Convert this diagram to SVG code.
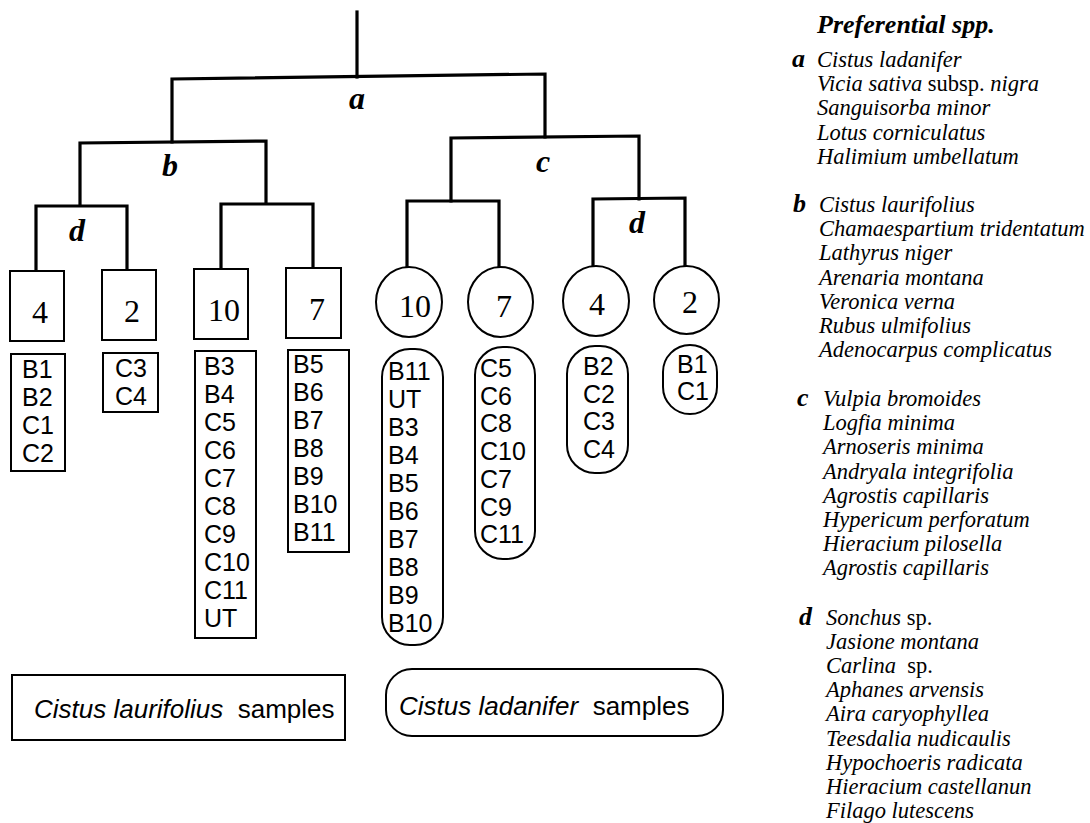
<svg xmlns="http://www.w3.org/2000/svg" width="1090" height="823" viewBox="0 0 1090 823">
<style>
.tree{stroke:#000;stroke-width:3.2;fill:none;stroke-linecap:square}
.box{fill:#fff;stroke:#000;stroke-width:2}
.num{font-family:"Liberation Serif",serif;font-size:32px;text-anchor:middle}
.lst{font-family:"Liberation Sans",Arial,sans-serif;font-size:25px}
.lbl{font-family:"Liberation Serif",serif;font-weight:bold;font-style:italic;font-size:32px;text-anchor:middle}
.leg{font-family:"Liberation Serif",serif;font-style:italic;font-size:22.5px}
.legl{font-family:"Liberation Serif",serif;font-weight:bold;font-style:italic;font-size:26px}
.up{font-style:normal}
.cap{font-family:"Liberation Sans",Arial,sans-serif;font-size:26px}
</style>
<rect width="1090" height="823" fill="#fff"/>
<g id="connectors" class="tree">
<polyline points="357,12 357,77"/>
<polyline points="172,142 172,79 545,74 545,137"/>
<polyline points="80,205 80,143 266,141 266,203"/>
<polyline points="36,270 36,206 127,206 127,270"/>
<polyline points="221,268 221,204 313,204 313,268"/>
<polyline points="451,201 451,138 639,136 639,199"/>
<polyline points="407,268 407,201 499,201 499,268"/>
<polyline points="593,266 593,199 685,198 685,266"/>
</g>
<g id="labels">
<text class="lbl" x="357" y="109">a</text>
<text class="lbl" x="170" y="176">b</text>
<text class="lbl" x="77" y="241">d</text>
<text class="lbl" x="543" y="172">c</text>
<text class="lbl" x="637" y="233">d</text>
</g>
<g id="node-l4">
<rect class="box" x="10" y="271" width="54" height="70"/>
<text class="num" x="40" y="323">4</text>
<rect class="box" x="11" y="354" width="54" height="117"/>
<text class="lst" x="22" y="378"><tspan x="22">B1</tspan><tspan x="22" dy="28">B2</tspan><tspan x="22" dy="28">C1</tspan><tspan x="22" dy="28">C2</tspan></text>
</g>
<g id="node-l2">
<rect class="box" x="102" y="270" width="54" height="70"/>
<text class="num" x="132" y="322">2</text>
<rect class="box" x="103" y="353" width="55" height="59"/>
<text class="lst" x="115" y="377"><tspan x="115">C3</tspan><tspan x="115" dy="28">C4</tspan></text>
</g>
<g id="node-l10">
<rect class="box" x="194" y="269" width="54" height="70"/>
<text class="num" x="224" y="321">10</text>
<rect class="box" x="195" y="351" width="61" height="287"/>
<text class="lst" x="204" y="375"><tspan x="204">B3</tspan><tspan x="204" dy="28">B4</tspan><tspan x="204" dy="28">C5</tspan><tspan x="204" dy="28">C6</tspan><tspan x="204" dy="28">C7</tspan><tspan x="204" dy="28">C8</tspan><tspan x="204" dy="28">C9</tspan><tspan x="204" dy="28">C10</tspan><tspan x="204" dy="28">C11</tspan><tspan x="204" dy="28">UT</tspan></text>
</g>
<g id="node-l7">
<rect class="box" x="286" y="268" width="55" height="70"/>
<text class="num" x="317" y="320">7</text>
<rect class="box" x="288" y="350" width="61" height="202"/>
<text class="lst" x="293" y="373"><tspan x="293">B5</tspan><tspan x="293" dy="28">B6</tspan><tspan x="293" dy="28">B7</tspan><tspan x="293" dy="28">B8</tspan><tspan x="293" dy="28">B9</tspan><tspan x="293" dy="28">B10</tspan><tspan x="293" dy="28">B11</tspan></text>
</g>
<g id="node-r10">
<ellipse class="box" cx="409" cy="302" rx="33" ry="35"/>
<text class="num" x="415" y="317">10</text>
<rect class="box" x="382" y="349" width="61" height="296" rx="28" ry="28"/>
<text class="lst" x="388" y="380"><tspan x="388">B11</tspan><tspan x="388" dy="28">UT</tspan><tspan x="388" dy="28">B3</tspan><tspan x="388" dy="28">B4</tspan><tspan x="388" dy="28">B5</tspan><tspan x="388" dy="28">B6</tspan><tspan x="388" dy="28">B7</tspan><tspan x="388" dy="28">B8</tspan><tspan x="388" dy="28">B9</tspan><tspan x="388" dy="28">B10</tspan></text>
</g>
<g id="node-r7">
<ellipse class="box" cx="500.5" cy="302" rx="32.5" ry="35"/>
<text class="num" x="504" y="317">7</text>
<rect class="box" x="475" y="347" width="60" height="212" rx="28" ry="28"/>
<text class="lst" x="480" y="377"><tspan x="480">C5</tspan><tspan x="480" dy="27.7">C6</tspan><tspan x="480" dy="27.7">C8</tspan><tspan x="480" dy="27.7">C10</tspan><tspan x="480" dy="27.7">C7</tspan><tspan x="480" dy="27.7">C9</tspan><tspan x="480" dy="27.7">C11</tspan></text>
</g>
<g id="node-r4">
<ellipse class="box" cx="596" cy="301" rx="33" ry="35"/>
<text class="num" x="597" y="315">4</text>
<rect class="box" x="567" y="346" width="61" height="127" rx="28" ry="28"/>
<text class="lst" x="583" y="375"><tspan x="583">B2</tspan><tspan x="583" dy="27.7">C2</tspan><tspan x="583" dy="27.7">C3</tspan><tspan x="583" dy="27.7">C4</tspan></text>
</g>
<g id="node-r2">
<ellipse class="box" cx="686.5" cy="300" rx="32.5" ry="34"/>
<text class="num" x="690" y="313">2</text>
<rect class="box" x="663" y="345" width="54" height="69" rx="27" ry="27"/>
<text class="lst" x="677" y="373"><tspan x="677">B1</tspan><tspan x="677" dy="27">C1</tspan></text>
</g>
<g id="group-laurifolius">
<rect class="box" x="12" y="675" width="333" height="65"/>
<text class="cap" x="34" y="718"><tspan font-style="italic">Cistus laurifolius</tspan>&#160; samples</text>
</g>
<g id="group-ladanifer">
<rect class="box" x="386" y="669" width="337" height="67" rx="26" ry="26"/>
<text class="cap" x="399" y="715"><tspan font-style="italic">Cistus ladanifer</tspan>&#160; samples</text>
</g>
<g id="legend">
<text class="legl" x="817" y="33">Preferential spp.</text>
<text class="legl" x="792" y="67">a</text>
<text class="leg" x="817" y="67"><tspan x="817">Cistus ladanifer</tspan><tspan x="817" dy="24.2">Vicia sativa <tspan class="up">subsp.</tspan> nigra</tspan><tspan x="817" dy="24.2">Sanguisorba minor</tspan><tspan x="817" dy="24.2">Lotus corniculatus</tspan><tspan x="817" dy="24.2">Halimium umbellatum</tspan></text>
<text class="legl" x="793" y="212">b</text>
<text class="leg" x="819" y="212"><tspan x="819">Cistus laurifolius</tspan><tspan x="819" dy="24.2">Chamaespartium tridentatum</tspan><tspan x="819" dy="24.2">Lathyrus niger</tspan><tspan x="819" dy="24.2">Arenaria montana</tspan><tspan x="819" dy="24.2">Veronica verna</tspan><tspan x="819" dy="24.2">Rubus ulmifolius</tspan><tspan x="819" dy="24.2">Adenocarpus complicatus</tspan></text>
<text class="legl" x="797" y="406">c</text>
<text class="leg" x="823" y="406"><tspan x="823">Vulpia bromoides</tspan><tspan x="823" dy="24.2">Logfia minima</tspan><tspan x="823" dy="24.2">Arnoseris minima</tspan><tspan x="823" dy="24.2">Andryala integrifolia</tspan><tspan x="823" dy="24.2">Agrostis capillaris</tspan><tspan x="823" dy="24.2">Hypericum perforatum</tspan><tspan x="823" dy="24.2">Hieracium pilosella</tspan><tspan x="823" dy="24.2">Agrostis capillaris</tspan></text>
<text class="legl" x="799" y="625">d</text>
<text class="leg" x="826" y="625"><tspan x="826">Sonchus <tspan class="up">sp.</tspan></tspan><tspan x="826" dy="24.1">Jasione montana</tspan><tspan x="826" dy="24.1">Carlina&#160; <tspan class="up">sp.</tspan></tspan><tspan x="826" dy="24.1">Aphanes arvensis</tspan><tspan x="826" dy="24.1">Aira caryophyllea</tspan><tspan x="826" dy="24.1">Teesdalia nudicaulis</tspan><tspan x="826" dy="24.1">Hypochoeris radicata</tspan><tspan x="826" dy="24.1">Hieracium castellanun</tspan><tspan x="826" dy="24.1">Filago lutescens</tspan></text>
</g>
</svg>
